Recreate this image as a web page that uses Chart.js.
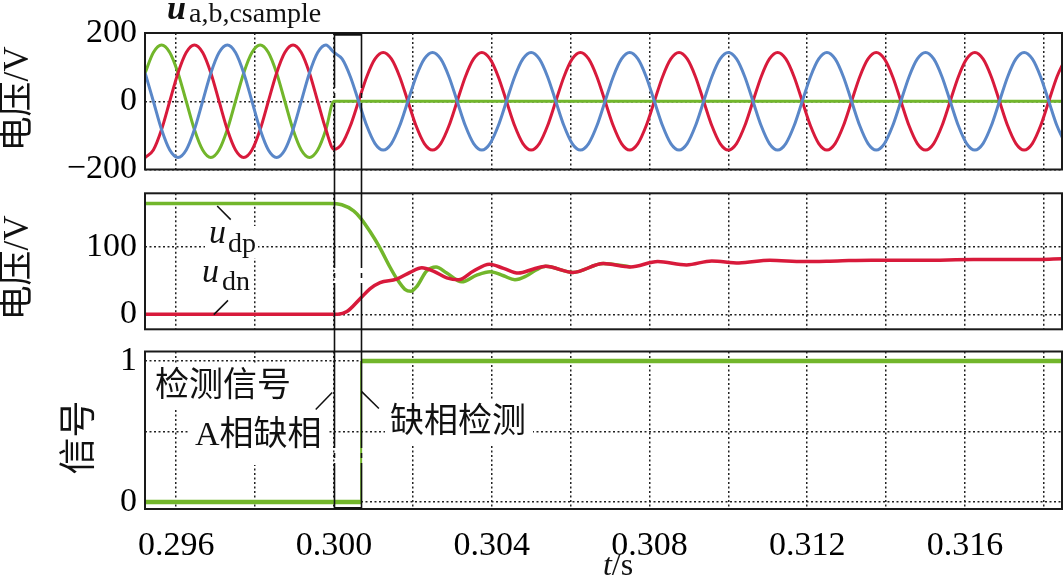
<!DOCTYPE html>
<html>
<head>
<meta charset="utf-8">
<script src="https://cdn.jsdelivr.net/npm/chart.js@4.4.0/dist/chart.umd.min.js"></script>
<style>
  html, body { margin: 0; padding: 0; background: #fff; }
  body { width: 1064px; height: 577px; position: relative; overflow: hidden; }
  canvas { position: absolute; left: 0; }
</style>
</head>
<body>
<canvas id="cv1" width="1064" height="188" style="top:0px"></canvas>
<canvas id="cv2" width="1064" height="152" style="top:188px"></canvas>
<canvas id="cv3" width="1064" height="237" style="top:340px"></canvas>
<script>
/* ── shared time axis ── */
const xMin = 0.29521, xMax = 0.31846;
const xTicks      = [0.296, 0.298, 0.300, 0.302, 0.304, 0.306, 0.308, 0.310, 0.312, 0.314, 0.316, 0.318];
const xTickLabels = ['0.296', '', '0.300', '', '0.304', '', '0.308', '', '0.312', '', '0.316', ''];
const faultTime  = 0.300;    // A相缺相
const detectTime = 0.30069;  // 缺相检测

/* ── panel 1: u a,b,c sample (V), read every 30° of the 400 Hz wave ── */
const preTime = [0.295213, 0.295422, 0.29563, 0.295838, 0.296047, 0.296255, 0.296463, 0.296672, 0.29688, 0.297088,
                 0.297297, 0.297505, 0.297713, 0.297922, 0.29813, 0.298338, 0.298547, 0.298755, 0.298963, 0.299172,
                 0.29938, 0.299588, 0.299797, 0.300];
const preA = [83, 143, 165, 143, 83, 0, -83, -143, -165, -143, -83, 0, 83, 143, 165, 143, 83, 0, -83, -143, -165, -143, -83, 0];
const preB = [-165, -143, -83, 0, 83, 143, 165, 143, 83, 0, -83, -143, -165, -143, -83, 0, 83, 143, 165, 143, 83, 0, -83, -141];
const preC = [83, 0, -83, -143, -165, -143, -83, 0, 83, 143, 165, 143, 83, 0, -83, -143, -165, -143, -83, 0, 83, 143, 165, 143];
const postTime = [
  0.300208, 0.300417, 0.300625, 0.300833, 0.301042, 0.30125, 0.301458, 0.301667, 0.301875, 0.302083, 0.302292, 0.3025,
  0.302708, 0.302917, 0.303125, 0.303333, 0.303542, 0.30375, 0.303958, 0.304167, 0.304375, 0.304583, 0.304792, 0.305,
  0.305208, 0.305417, 0.305625, 0.305833, 0.306042, 0.30625, 0.306458, 0.306667, 0.306875, 0.307083, 0.307292, 0.3075,
  0.307708, 0.307917, 0.308125, 0.308333, 0.308542, 0.30875, 0.308958, 0.309167, 0.309375, 0.309583, 0.309792, 0.31,
  0.310208, 0.310417, 0.310625, 0.310833, 0.311042, 0.31125, 0.311458, 0.311667, 0.311875, 0.312083, 0.312292, 0.3125,
  0.312708, 0.312917, 0.313125, 0.313333, 0.313542, 0.31375, 0.313958, 0.314167, 0.314375, 0.314583, 0.314792, 0.315,
  0.315208, 0.315417, 0.315625, 0.315833, 0.316042, 0.31625, 0.316458, 0.316667, 0.316875, 0.317083, 0.317292, 0.3175,
  0.317708, 0.317917, 0.318125, 0.318333, 0.318542];
const postB = [
  -124, -72, 0, 72, 124, 143, 124, 72, 0, -72, -124, -143,
  -124, -72, 0, 72, 124, 143, 124, 72, 0, -72, -124, -143,
  -124, -72, 0, 72, 124, 143, 124, 72, 0, -72, -124, -143,
  -124, -72, 0, 72, 124, 143, 124, 72, 0, -72, -124, -143,
  -124, -72, 0, 72, 124, 143, 124, 72, 0, -72, -124, -143,
  -124, -72, 0, 72, 124, 143, 124, 72, 0, -72, -124, -143,
  -124, -72, 0, 72, 124, 143, 124, 72, 0, -72, -124, -143,
  -124, -72, 0, 72, 124];
const postC = [
  124, 72, 0, -72, -124, -143, -124, -72, 0, 72, 124, 143,
  124, 72, 0, -72, -124, -143, -124, -72, 0, 72, 124, 143,
  124, 72, 0, -72, -124, -143, -124, -72, 0, 72, 124, 143,
  124, 72, 0, -72, -124, -143, -124, -72, 0, 72, 124, 143,
  124, 72, 0, -72, -124, -143, -124, -72, 0, 72, 124, 143,
  124, 72, 0, -72, -124, -143, -124, -72, 0, 72, 124, 143,
  124, 72, 0, -72, -124, -143, -124, -72, 0, 72, 124, 143,
  124, 72, 0, -72, -124];
const postATime = [0.318542];
const postA     = [0];
const topTicks      = [-200, 0, 200];
const topTickLabels = ['\u2212200', '0', '200'];

/* ── panel 2: u_dp / u_dn (V) ── */
const udpTime = [0.29521, 0.2999, 0.3002, 0.3005, 0.30068, 0.30092, 0.30117, 0.30142, 0.30159, 0.3018, 0.30195, 0.3021, 0.30235,
                 0.30259, 0.30286, 0.30324, 0.30362, 0.30396, 0.3043, 0.30459, 0.30489, 0.30514, 0.30537, 0.30606, 0.30683, 0.30752];
const udpVal  = [164, 164, 162, 153, 142, 122, 98, 70, 53, 37, 34, 41, 64,
                 70, 61, 48, 58, 63, 57, 51, 57, 66, 71, 62, 75, 70];
const udnTime = [0.29521, 0.3001, 0.30033, 0.30068, 0.30092, 0.30117, 0.30159, 0.30193, 0.30223, 0.30252, 0.30286, 0.30316,
                 0.30354, 0.30394, 0.3043, 0.30468, 0.30506, 0.30537, 0.30606, 0.30683, 0.30752, 0.30821, 0.30894, 0.30958,
                 0.31027, 0.31105, 0.31191, 0.31277, 0.31363, 0.31492, 0.31621, 0.3175, 0.31846];
const udnVal  = [0, 0, 4, 24, 38, 47, 52, 62, 69, 64, 54, 51,
                 64, 74, 68, 61, 67, 71, 62, 75, 70, 78, 73, 79,
                 76, 80, 78, 79, 80, 80, 81, 81, 82];
const midTicks      = [0, 100];
const midTickLabels = ['0', '100'];

/* ── panel 3: detection signal ── */
const sigTime = [0.29521, 0.30069, 0.30069, 0.31846];
const sigVal  = [0, 0, 1, 1];
const sigTicks      = [0, 0.5, 1];
const sigTickLabels = ['0', '', '1'];

/* ─────────────────────────────────────────── */

const RED = '#d81a3b', BLUE = '#5a87c8', GREEN = '#72b62b', INK = '#111';
const SERIF = '"Liberation Serif", "Noto Sans CJK SC", serif';

function pts(ts, vs){ return ts.map(function(t, i){ return { x: t, y: vs[i] }; }); }

function txt(ctx, s, x, y, font, align, base){
  ctx.font = font;
  ctx.textAlign = align || 'left';
  ctx.textBaseline = base || 'alphabetic';
  ctx.fillText(s, x, y);
}
// text squeezed/stretched to a measured width from the reference
function fitTxt(ctx, s, x, y, style, size, width){
  ctx.font = style + size + 'px ' + SERIF;
  const w = ctx.measureText(s).width;
  const sz = w > 0 ? size * width / w : size;
  txt(ctx, s, x, y, style + sz.toFixed(1) + 'px ' + SERIF);
}
function vtxt(ctx, s, cx, cy, font){
  ctx.save();
  ctx.translate(cx, cy);
  ctx.rotate(-Math.PI / 2);
  txt(ctx, s, 0, 0, font, 'center', 'middle');
  ctx.restore();
}
function seg(ctx, x0, y0, x1, y1){
  ctx.beginPath(); ctx.moveTo(x0, y0); ctx.lineTo(x1, y1); ctx.stroke();
}
function whiteBox(ctx, x, y, w, h){ ctx.fillStyle = '#fff'; ctx.fillRect(x, y, w, h); }

// dash-dot marker lines, phase kept continuous over the three canvases
function markerLines(chart, pageTop, y0, y1){
  const ctx = chart.ctx, sx = chart.scales.x;
  ctx.save();
  ctx.strokeStyle = INK;
  ctx.lineWidth = 1.6;
  ctx.setLineDash([165, 5, 5, 5]);
  ctx.lineDashOffset = (((pageTop + y0) - 88 + 165) % 180 + 180) % 180;
  [faultTime, detectTime].forEach(function(t){
    const px = Math.round(sx.getPixelForValue(t)) + 0.5;
    seg(ctx, px, y0, px, y1);
  });
  ctx.restore();
}

function panel(id, cfg){
  const decor = {
    id: 'decor_' + id,
    beforeDatasetsDraw: function(chart){
      if(cfg.boxes){ chart.ctx.save(); cfg.boxes(chart.ctx); chart.ctx.restore(); }
    },
    afterDraw: function(chart){
      const ctx = chart.ctx, a = chart.chartArea;
      ctx.save();
      ctx.strokeStyle = '#1a1a1a';
      ctx.lineWidth = 2;
      ctx.strokeRect(a.left, a.top, a.right - a.left, a.bottom - a.top);
      ctx.restore();
      markerLines(chart, cfg.pageTop, cfg.markY0, cfg.markY1);
      ctx.save();
      ctx.fillStyle = INK; ctx.strokeStyle = INK; ctx.lineWidth = 1.5;
      cfg.decor(ctx, chart);
      ctx.restore();
    }
  };
  return new Chart(document.getElementById(id), {
    type: 'line',
    data: { datasets: cfg.datasets },
    options: {
      responsive: false, animation: false, devicePixelRatio: 1,
      layout: { padding: { top: cfg.top, right: 2, left: 0, bottom: 0 } },
      plugins: { legend: { display: false }, tooltip: { enabled: false } },
      elements: { point: { radius: 0 }, line: { cubicInterpolationMode: 'monotone', fill: false } },
      scales: {
        x: {
          type: 'linear', min: xMin, max: xMax,
          afterBuildTicks: function(s){ s.ticks = xTicks.map(function(v){ return { value: v }; }); },
          afterFit: function(s){ s.height = cfg.xHeight; s.paddingLeft = 0; s.paddingRight = 0; },
          grid: { color: '#222', lineWidth: 1.5, drawTicks: false },
          border: { display: false, dash: [2, 2.5] },
          ticks: {
            display: !!cfg.showX, autoSkip: false, maxRotation: 0, padding: 17, color: '#000',
            font: { family: SERIF, size: 34 },
            callback: function(v, i){ return xTickLabels[i]; }
          }
        },
        y: {
          type: 'linear', min: cfg.yMin, max: cfg.yMax,
          afterBuildTicks: function(s){ s.ticks = cfg.yTicks.map(function(v){ return { value: v }; }); },
          afterFit: function(s){ s.width = 145; s.paddingTop = 0; s.paddingBottom = 0; },
          grid: { color: '#222', lineWidth: 1.5, drawTicks: false },
          border: { display: false, dash: [2, 2.5] },
          ticks: {
            autoSkip: false, padding: 8, color: '#000',
            font: { family: SERIF, size: 34 },
            callback: function(v, i){ return cfg.yLabels[i]; }
          }
        }
      }
    },
    plugins: [decor]
  });
}

/* ── panel 1 ── */
panel('cv1', {
  pageTop: 0, top: 33, xHeight: 18.5, yMin: -200, yMax: 200,
  yTicks: topTicks, yLabels: topTickLabels, markY0: 34, markY1: 188,
  datasets: [
    { data: pts(preTime.concat(postTime), preC.concat(postC)), borderColor: BLUE,  borderWidth: 3 },
    { data: pts(preTime.concat(postTime), preB.concat(postB)), borderColor: RED,   borderWidth: 3 },
    { data: pts(preTime.concat(postATime), preA.concat(postA)), borderColor: GREEN, borderWidth: 3 }
  ],
  decor: function(ctx, chart){
    const sx = chart.scales.x;
    const x0 = sx.getPixelForValue(faultTime), x1 = sx.getPixelForValue(detectTime);
    ctx.lineWidth = 2.5;
    seg(ctx, x0, 34.5, x1, 34.5);
    fitTxt(ctx, 'u', 167, 19, 'bold italic ', 34, 19);
    fitTxt(ctx, 'a,b,csample', 189, 22, '', 28, 132);
    vtxt(ctx, '电压/V', 19, 99, '35px ' + SERIF);
  }
});

/* ── panel 2 ── */
panel('cv2', {
  pageTop: 188, top: 5.3, xHeight: 10.7, yMin: -22.2, yMax: 179,
  yTicks: midTicks, yLabels: midTickLabels, markY0: 0, markY1: 152,
  datasets: [
    { data: pts(udnTime, udnVal), borderColor: RED,   borderWidth: 3.5 },
    { data: pts(udpTime, udpVal), borderColor: GREEN, borderWidth: 3.5 }
  ],
  boxes: function(ctx){
    whiteBox(ctx, 205, 38, 53, 32);
    whiteBox(ctx, 199, 75, 50, 33);
  },
  decor: function(ctx){
    txt(ctx, 'u',  209, 54.7, 'italic 34px ' + SERIF);
    txt(ctx, 'dp', 228, 64,   '28px ' + SERIF);
    txt(ctx, 'u',  202, 93.7, 'italic 34px ' + SERIF);
    txt(ctx, 'dn', 222, 102.2, '28px ' + SERIF);
    seg(ctx, 217.2, 18, 230.7, 31.6);
    seg(ctx, 213.8, 126.6, 228, 112.4);
    vtxt(ctx, '电压/V', 19, 80, '35px ' + SERIF);
  }
});

/* ── panel 3 ── */
panel('cv3', {
  pageTop: 340, top: 11.5, xHeight: 68, yMin: -0.05, yMax: 1.067, showX: true,
  yTicks: sigTicks, yLabels: sigTickLabels, markY0: 0, markY1: 168,
  datasets: [
    { data: pts(sigTime, sigVal), borderColor: GREEN, borderWidth: 4.5, cubicInterpolationMode: 'default', tension: 0,
      segment: { borderWidth: function(c){ return c.p0.parsed.x === c.p1.parsed.x ? 2 : undefined; } } }
  ],
  boxes: function(ctx){
    whiteBox(ctx, 150, 25, 148, 44);
    whiteBox(ctx, 190, 69, 138, 56);
    whiteBox(ctx, 385, 60, 148, 46);
  },
  decor: function(ctx, chart){
    const sx = chart.scales.x;
    const x0 = sx.getPixelForValue(faultTime), x1 = sx.getPixelForValue(detectTime);
    ctx.lineWidth = 2;
    seg(ctx, x0, 168, x1, 168);
    ctx.lineWidth = 1.5;
    txt(ctx, '检测信号', 155, 46.7, '34px ' + SERIF, 'left', 'middle');
    txt(ctx, 'A相缺相', 195, 96, '34px ' + SERIF, 'left', 'middle');
    txt(ctx, '缺相检测', 390, 83, '34px ' + SERIF, 'left', 'middle');
    seg(ctx, 315.7, 69.6, 332.2, 52.4);
    seg(ctx, 361.7, 51.6, 378.9, 68.5);
    vtxt(ctx, '信号', 81, 97.5, '37px ' + SERIF);
    // axis title t/s
    ctx.font = 'italic 32px ' + SERIF;
    const wt = ctx.measureText('t').width;
    ctx.font = '32px ' + SERIF;
    const ws = ctx.measureText('/s').width;
    const left = 618 - (wt + ws) / 2;
    txt(ctx, 't', left, 235, 'italic 32px ' + SERIF);
    txt(ctx, '/s', left + wt, 235, '32px ' + SERIF);
  }
});
</script>
</body>
</html>
